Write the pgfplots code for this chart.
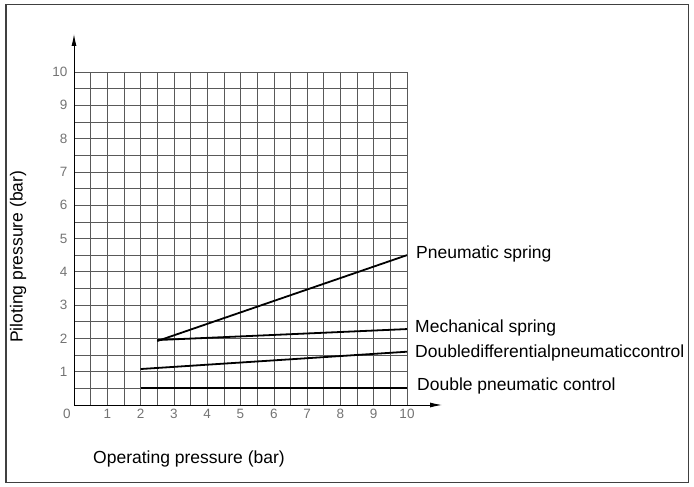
\documentclass[border=0pt]{standalone}
\usepackage{pgfplots}
\pgfplotsset{compat=1.18}
\usetikzlibrary{arrows.meta}
\usepackage{fontspec}
\setmainfont{Liberation Sans}
\begin{document}
\begin{tikzpicture}
\useasboundingbox (0,0) rectangle (694pt,487pt);
\draw[line width=1.3pt, black!75] (6pt,4.5pt) rectangle (688.5pt,482.5pt);
\begin{axis}[
  at={(74pt,82pt)}, anchor=origin,
  x=33.3pt, y=33.3pt,
  xmin=0, xmax=10, ymin=0, ymax=10,
  axis x line=bottom, axis y line=left,
  x axis line style={-{Latex[length=12pt,width=5pt]}, shorten >=-35pt, line width=0.9pt},
  y axis line style={-{Latex[length=12pt,width=5pt]}, shorten >=-38pt, line width=0.9pt},
  clip=false,
  grid=both,
  major grid style={black!65, line width=0.6pt},
  minor grid style={black!65, line width=0.6pt},
  xtick={0,...,10}, ytick={1,...,10},
  xticklabels={\makebox[0pt]{\hspace*{-14pt}0},1,2,3,4,5,6,7,8,9,10},
  minor xtick={0.5,1.5,...,9.5}, minor ytick={0.5,1.5,...,9.5},
  major tick length=0pt, minor tick length=0pt,
  tick style={draw=none},
  /pgf/number format/assume math mode=true,
  tick label style={font=\fontsize{13.5}{14}\selectfont, text=black!55},
  xticklabel style={yshift=-1pt},
  yticklabel style={xshift=-3pt},
]
\addplot[black, line width=1.8pt] coordinates {(2.5,1.92) (10,4.5)};
\addplot[black, line width=1.8pt] coordinates {(2.5,1.95) (10,2.28)};
\addplot[black, line width=1.8pt] coordinates {(2,1.08) (10,1.6)};
\addplot[black, line width=1.8pt] coordinates {(2,0.5) (10,0.5)};
\node[anchor=west, inner sep=0pt, font=\fontsize{17.5}{20}\selectfont] at (axis cs:10.27,4.53) {Pneumatic spring};
\node[anchor=west, inner sep=0pt, font=\fontsize{17.5}{20}\selectfont] at (axis cs:10.24,2.31) {Mechanical spring};
\node[anchor=west, inner sep=0pt, font=\fontsize{17.5}{20}\selectfont] at (axis cs:10.24,1.56) {Doubledifferentialpneumaticcontrol};
\node[anchor=west, inner sep=0pt, font=\fontsize{17.5}{20}\selectfont] at (axis cs:10.3,0.57) {Double pneumatic control};
\node[anchor=west, inner sep=0pt, font=\fontsize{17.5}{20}\selectfont] at (axis cs:0.57,-1.62) {Operating pressure (bar)};
\node[rotate=90, inner sep=0pt, font=\fontsize{17.5}{20}\selectfont] at (axis cs:-1.68,4.45) {Piloting pressure (bar)};
\end{axis}
\end{tikzpicture}
\end{document}
